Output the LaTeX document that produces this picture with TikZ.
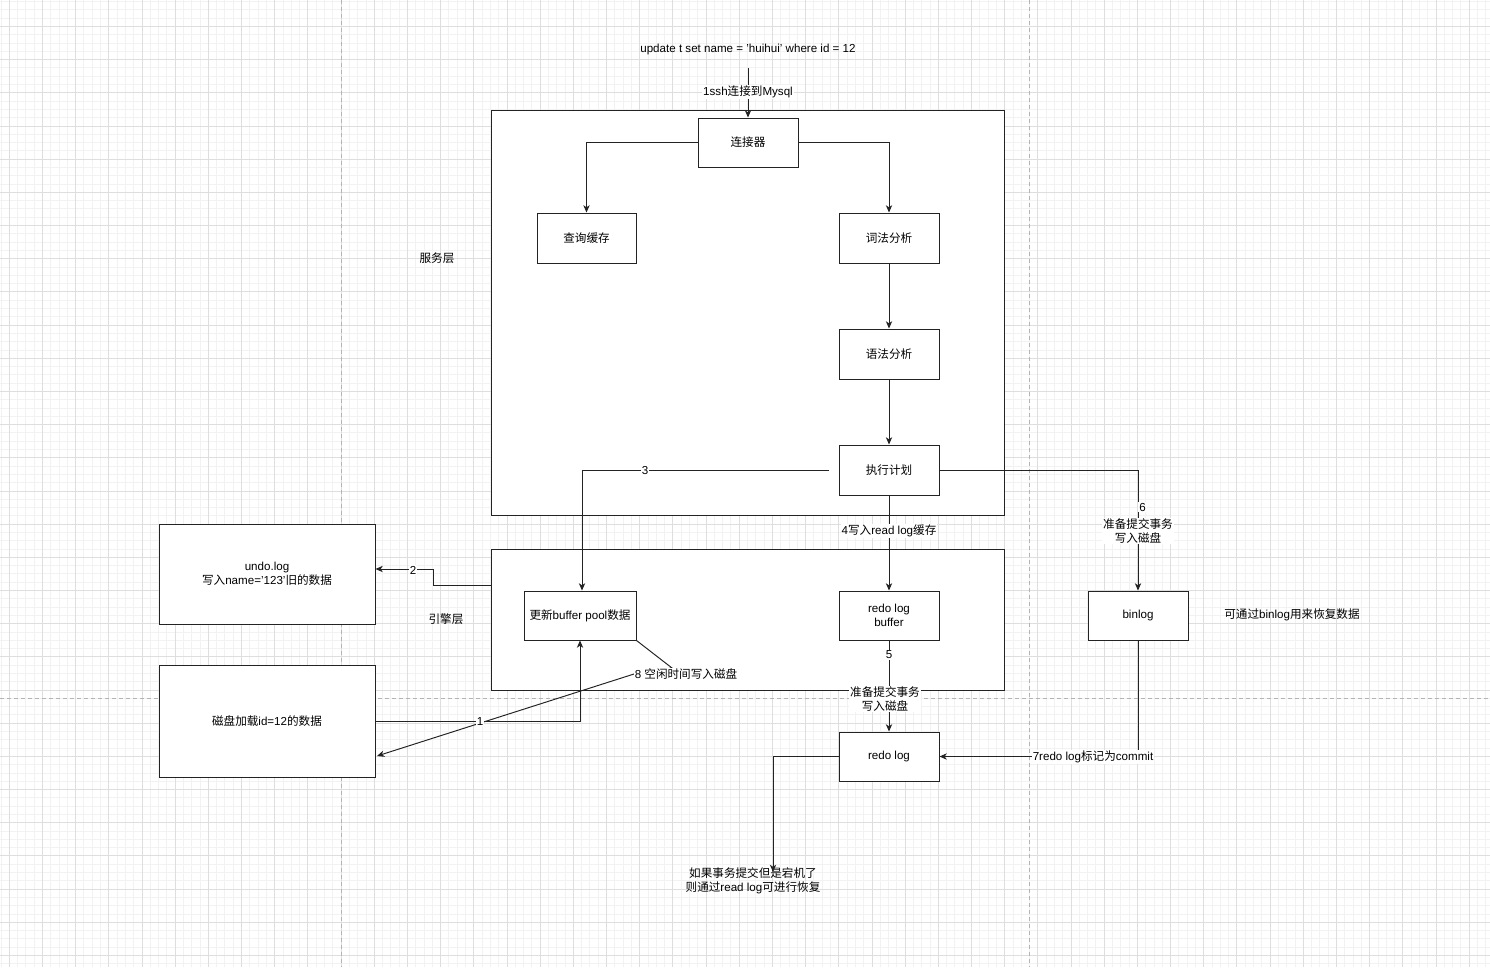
\documentclass[tikz,border=0pt]{standalone}
\usepackage{fontspec}
\setmainfont{Liberation Sans}
\newfontfamily\cjkf{Noto Sans CJK SC}
\newcommand\ZH[1]{{\cjkf #1}}
\usetikzlibrary{arrows.meta,calc}
\definecolor{gridminor}{RGB}{242,242,242}
\definecolor{gridmajor}{RGB}{222,222,222}
\definecolor{pagebreak}{RGB}{180,180,180}
\definecolor{edgecol}{RGB}{35,35,35}
\tikzset{
  box/.style={draw=edgecol, line width=0.55pt, fill=white, inner sep=0pt, align=center},
  container/.style={draw=edgecol, line width=0.55pt, fill=white, inner sep=0pt},
  arr/.style={draw=edgecol, line width=0.55pt, -{Stealth[length=1.45mm,width=1.25mm,inset=0.4mm]}},
  lbl/.style={fill=white, inner sep=0.6pt, align=center},
  txt/.style={inner sep=0pt, align=center},
  minorline/.style={draw=gridminor, line width=0.02cm},
  majorline/.style={draw=gridmajor, line width=0.02cm},
  pagebrk/.style={draw=pagebreak, line width=0.02cm, dash pattern=on 0.08cm off 0.06cm}
}
\begin{document}
\begin{tikzpicture}[x=0.02cm, y=-0.02cm, font=\fontsize{6.6pt}{7.97pt}\selectfont]
\useasboundingbox (0,0) rectangle (1490,967);
\fill[white] (0,0) rectangle (1490,967);
% grid
\foreach \i in {0,...,182} {
  \pgfmathsetmacro\gx{floor(9.33+(\i-1)*8.295)+0.5}
  \draw[minorline] (\gx,0) -- (\gx,967);
}
\foreach \i in {0,...,118} {
  \pgfmathsetmacro\gy{floor(26.5+(\i-4)*8.295)+0.5}
  \draw[minorline] (0,\gy) -- (1490,\gy);
}
\foreach \i in {0,...,45} {
  \pgfmathsetmacro\gx{floor(9.33+\i*33.18)+0.5}
  \draw[majorline] (\gx,0) -- (\gx,967);
}
\foreach \i in {0,...,29} {
  \pgfmathsetmacro\gy{floor(26.5+\i*33.18)+0.5}
  \draw[majorline] (0,\gy) -- (1490,\gy);
}
% page breaks
\draw[pagebrk] (341.5,0) -- (341.5,967);
\draw[pagebrk] (1029.5,0) -- (1029.5,967);
\draw[pagebrk] (0,698.5) -- (1490,698.5);

% containers
\node[container, minimum width=10.28cm, minimum height=8.12cm] (service) at (748,313) {};
\node[container, minimum width=10.28cm, minimum height=2.82cm] (engine) at (748,619.5) {};

% boxes
\node[box, minimum width=2cm, minimum height=0.98cm] (conn) at (748,142.5) {\ZH{连接器}};
\node[box, minimum width=1.98cm, minimum height=1cm] (qcache) at (586.5,238) {\ZH{查询缓存}};
\node[box, minimum width=2cm, minimum height=1cm] (lex) at (889,238) {\ZH{词法分析}};
\node[box, minimum width=2cm, minimum height=1cm] (syn) at (889,354) {\ZH{语法分析}};
\node[box, minimum width=2cm, minimum height=1cm] (exec) at (889,470) {\ZH{执行计划}};
\node[box, minimum width=2.24cm, minimum height=0.98cm] (buf) at (580,615.5) {\ZH{更新}buffer pool\ZH{数据}};
\node[box, minimum width=2cm, minimum height=0.98cm] (rlb) at (889,615.5) {redo log\\buffer};
\node[box, minimum width=2cm, minimum height=0.98cm] (binlog) at (1138,615.5) {binlog};
\node[box, minimum width=4.32cm, minimum height=2cm] (undo) at (267,574) {undo.log\\\ZH{写入}name='123'\ZH{旧的数据}};
\node[box, minimum width=4.32cm, minimum height=2.24cm] (disk) at (267,721) {\ZH{磁盘加载}id=12\ZH{的数据}};
\node[box, minimum width=2cm, minimum height=0.98cm] (redo) at (889,756.5) {redo log};

% free texts
\node[txt] (title) at (748,50) {update t set name = 'huihui' where id = 12};
\node[txt] (svclbl) at (437,258) {\ZH{服务层}};
\node[txt] (englbl) at (446,619) {\ZH{引擎层}};
\node[txt] (binnote) at (1292,615) {\ZH{可通过}binlog\ZH{用来恢复数据}};
\node[txt] (note) at (753,881) {\ZH{如果事务提交但是宕机了}\\\ZH{则通过}read log\ZH{可进行恢复}};

% coordinates
\coordinate (t0) at (748,68);
\coordinate (e3) at (829,470);
\coordinate (e2) at (491,585);
\coordinate (k2) at (433,585);
\coordinate (p8a) at (672,668);
\coordinate (p8b) at (634,674);
\coordinate (d8) at (377,756);
\coordinate (tip) at (773,872);

% edges
\draw[arr] (t0) -- (conn.north);
\draw[arr] (conn.west) -| (qcache.north);
\draw[arr] (conn.east) -| (lex.north);
\draw[arr] (lex.south) -- (syn.north);
\draw[arr] (syn.south) -- (exec.north);
\draw[arr] (e3) -| ($(buf.north)+(2,0)$);
\draw[arr] (exec.south) -- (rlb.north);
\draw[arr] (exec.east) -| (binlog.north);
\draw[arr] (rlb.south) -- (redo.north);
\draw[arr] (binlog.south) |- (redo.east);
\draw[arr] (redo.west) -| (tip);
\draw[arr] (e2) -- (k2) |- ($(undo.east)+(0,-5)$);
\draw[arr] (disk.east) -| (buf.south);
\draw[arr] (buf.south east) -- (p8a) -- (p8b) -- (d8);

% edge labels
\node[lbl] (l1) at (748,92) {1ssh\ZH{连接到}Mysql};
\node[lbl] (l3) at (645,470) {3};
\node[lbl] (l4) at (889,531) {4\ZH{写入}read log\ZH{缓存}};
\node[lbl] (l6) at (1142.5,507) {6};
\node[lbl] (l6b) at (1138,531) {\ZH{准备提交事务}\\\ZH{写入磁盘}};
\node[lbl] (l2) at (413,570) {2};
\node[lbl] (l1b) at (480,721) {1};
\node[lbl] (l8) at (686,674) {8 \ZH{空闲时间写入磁盘}};
\node[lbl] (l5) at (889,655) {5};
\node[lbl] (l5b) at (885,699) {\ZH{准备提交事务}\\\ZH{写入磁盘}};
\node[lbl] (l7) at (1093,757) {7redo log\ZH{标记为}commit};
\end{tikzpicture}
\end{document}
